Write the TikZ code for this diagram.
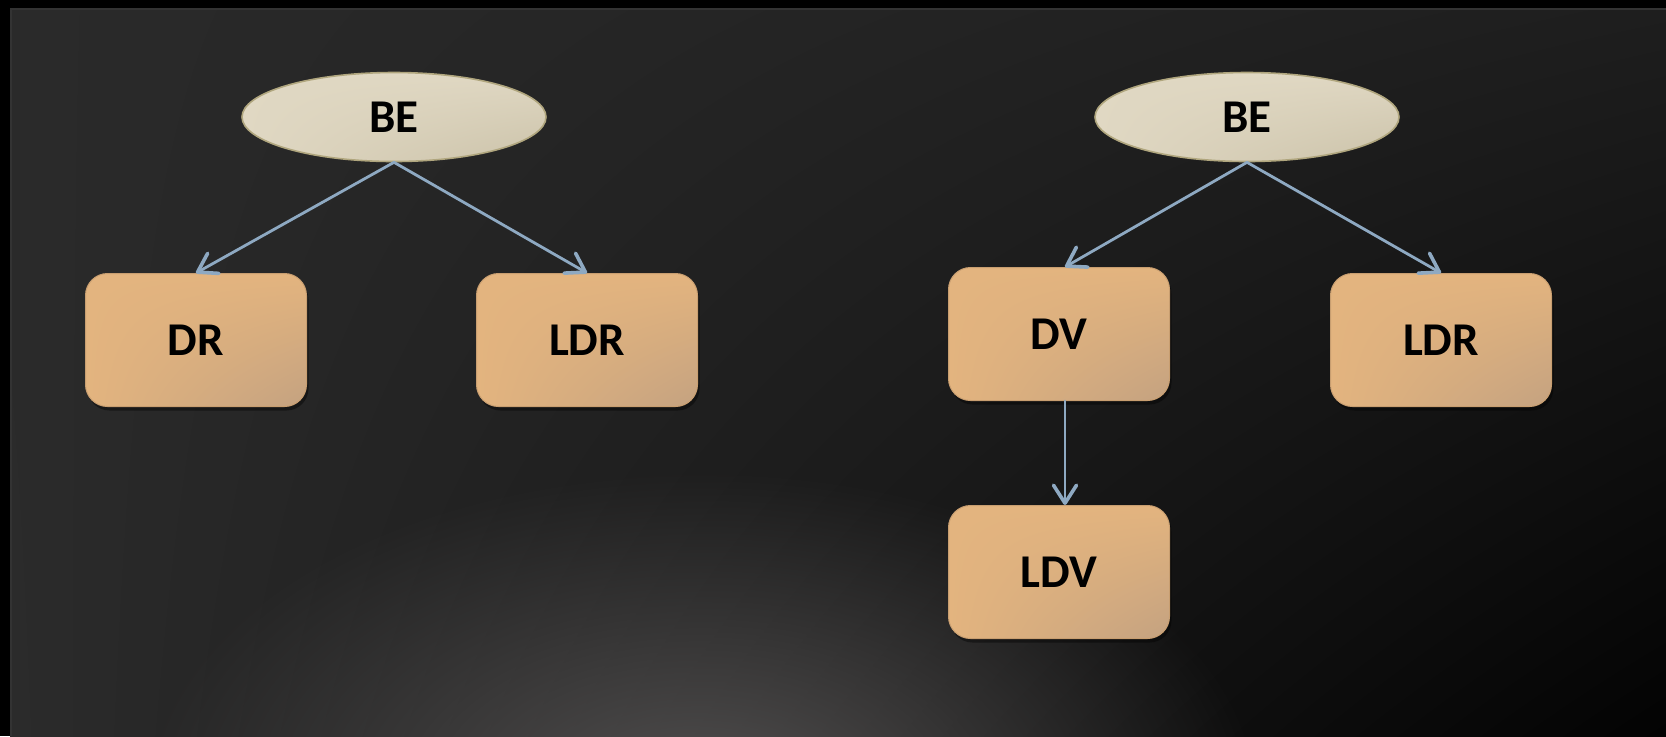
\documentclass[tikz,border=0pt]{standalone}
\usepackage{fontspec}
\setmainfont{Carlito}
\usetikzlibrary{shapes.geometric, arrows.meta, shadows, shadings, fadings}

\definecolor{panelTL}{HTML}{2A2A2A}
\definecolor{panelTR}{HTML}{1E1E1E}
\definecolor{panelBL}{HTML}{2B2B2B}
\definecolor{panelBR}{HTML}{030303}
\definecolor{panelEdge}{HTML}{333333}
\definecolor{glow}{HTML}{525050}
\definecolor{ovalTop}{HTML}{E0D8C3}
\definecolor{ovalLow}{HTML}{CBC2A9}
\definecolor{ovalBorder}{HTML}{B0A67E}
\definecolor{boxTop}{HTML}{E3B47F}
\definecolor{boxLow}{HTML}{C4A280}
\definecolor{boxBorder}{HTML}{C89E70}
\definecolor{linkBlue}{HTML}{8EA9C2}

\tikzfading[name=glow fade, inner color=transparent!0, outer color=transparent!100]

\begin{document}
\begin{tikzpicture}[
    x=0.5pt, y=-0.5pt,
    % Global styles
    label font/.style={font=\fontsize{23.5}{28}\selectfont\bfseries},
    oval/.style={ellipse, draw=ovalBorder, line width=0.8pt, inner sep=0pt,
        minimum width=152pt, minimum height=44.5pt,
        upper left=ovalTop, upper right=ovalTop, lower left=ovalTop, lower right=ovalLow,
        label font},
    box/.style={rectangle, rounded corners=11pt, draw=boxBorder, line width=0.5pt, inner sep=0pt,
        minimum width=110.5pt, minimum height=66.5pt,
        upper left=boxTop, upper right=boxTop, lower left=boxTop, lower right=boxLow,
        drop shadow={shadow xshift=1pt, shadow yshift=-2pt, opacity=0.4, fill=black},
        label font},
    link/.style={draw=linkBlue, line width=1.4pt, line cap=round,
        -{Straight Barb[length=9pt, width=11.5pt, line width=1.8pt, line join=round, line cap=round]}}
    ]
    \useasboundingbox (0,0) rectangle (1666,736);

    % ===========================
    % BACKGROUND
    % ===========================
    \fill[black] (0,0) rectangle (1666,736);
    \shade[upper left=panelTL, upper right=panelTR, lower left=panelBL, lower right=panelBR]
        (10,8) rectangle (1666,736);
    \begin{scope}
        \clip (10,8) rectangle (1666,736);
        \fill[glow, path fading=glow fade] (700,800) ellipse [x radius=560, y radius=330];
    \end{scope}
    \draw[panelEdge, line width=0.6pt] (11,736) -- (11,9) -- (1666,9);

    % ===========================
    % LEFT TREE
    % ===========================
    \node[oval] (beL) at (394,117) {BE};
    \node[box] (dr) at (196,340) {DR};
    \node[box] (ldrL) at (587,340) {LDR};

    \draw[link] (beL.south) -- (dr.north);
    \draw[link] (beL.south) -- (ldrL.north);

    % ===========================
    % RIGHT TREE
    % ===========================
    \node[oval] (beR) at (1247,117) {BE};
    \node[box] (dv) at (1059,334) {DV};
    \node[box] (ldrR) at (1441,340) {LDR};
    \node[box] (ldv) at (1059,572) {LDV};

    \draw[link] (beR.south) -- ([xshift=3pt]dv.north);
    \draw[link] (beR.south) -- (ldrR.north);
    \draw[link] ([xshift=3pt]dv.south) -- ([xshift=3pt]ldv.north);

\end{tikzpicture}
\end{document}
